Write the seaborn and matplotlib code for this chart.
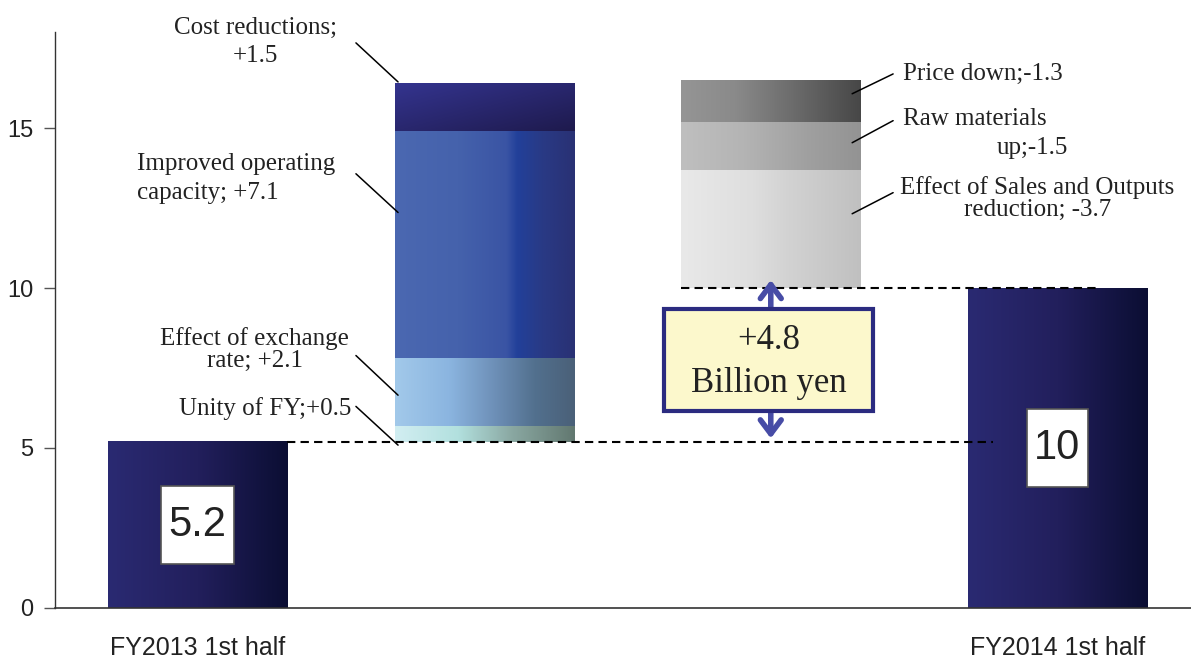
import numpy as np
import matplotlib
matplotlib.use("Agg")
import matplotlib.pyplot as plt
from matplotlib.colors import LinearSegmentedColormap, to_rgb
from matplotlib.patches import Rectangle
import seaborn as sns

# data
categories = ["FY2013 1st half", "increase", "decrease", "FY2014 1st half"]
tick_labels = ["FY2013 1st half", "", "", "FY2014 1st half"]
total_names = ["FY2013 1st half", "FY2014 1st half"]
totals = [5.2, 10]
inc_labels = ["Unity of FY;+0.5", "Effect of exchange\nrate; +2.1",
              "Improved operating\ncapacity; +7.1", "Cost reductions;\n+1.5"]
inc_values = [0.5, 2.1, 7.1, 1.5]
# decreases stacked upward from the FY2014 value
dec_labels = ["Effect of Sales and Outputs\nreduction; -3.7", "Raw materials", "Price down;-1.3"]
dec_values = [3.7, 1.5, 1.3]
gap = 4.8

sns.set_style("white")
SERIF = ["Liberation Serif", "DejaVu Serif"]
SANS = ["Liberation Sans", "DejaVu Sans"]

fig = plt.figure(figsize=(11.91, 6.6), dpi=100)
ax = fig.add_axes([0.0458, 0.0788, 0.9622, 0.8727])

W = 0.625
sns.barplot(x=total_names, y=totals, order=categories, width=W, color="#1c1c55",
            saturation=1, ax=ax, zorder=2)
total_patches = list(ax.patches)

inc_patches = []
b = totals[0]
for v in inc_values:
    inc_patches += list(ax.bar(1, v, bottom=b, width=W, color="#4a66b0", zorder=2))
    b += v
dec_patches = []
b = totals[1]
for v in dec_values:
    dec_patches += list(ax.bar(2, v, bottom=b, width=W, color="#bbbbbb", zorder=2))
    b += v


def grad(patch, stops):
    pos = [s[0] for s in stops]
    cols = [s[1] for s in stops]
    cmap = LinearSegmentedColormap.from_list("g", list(zip(pos, cols)))
    x0, y0 = patch.get_x(), patch.get_y()
    w, h = patch.get_width(), patch.get_height()
    ax.imshow(np.linspace(0, 1, 256).reshape(1, -1), cmap=cmap, aspect="auto",
              extent=[x0, x0 + w, y0, y0 + h], zorder=2.5, interpolation="bilinear")


def grad2d(patch, c_tl, c_br):
    a, z = np.array(to_rgb(c_tl)), np.array(to_rgb(c_br))
    u = np.linspace(0, 1, 128)[None, :]
    v = np.linspace(0, 1, 64)[:, None]
    t = (0.5 * u + 0.5 * v)[..., None]
    img = a * (1 - t) + z * t
    x0, y0 = patch.get_x(), patch.get_y()
    w, h = patch.get_width(), patch.get_height()
    ax.imshow(img, aspect="auto", extent=[x0, x0 + w, y0, y0 + h], zorder=2.5,
              interpolation="bilinear")


navy = [(0, "#2a2a72"), (0.5, "#221f5c"), (1, "#0b0e33")]
for p in total_patches:
    grad(p, navy)

grad(inc_patches[0], [(0, "#d2eef2"), (0.35, "#b2e0de"), (0.65, "#8aa8a2"), (1, "#627870")])
grad(inc_patches[1], [(0, "#a2c9ea"), (0.3, "#8bb5e0"), (0.55, "#6e90b8"), (0.78, "#52708e"), (1, "#4a6078")])
grad(inc_patches[2], [(0, "#4b68b1"), (0.35, "#4562ac"), (0.62, "#3a54a4"), (0.68, "#22409a"),
                      (0.82, "#293a85"), (1, "#293174")])
grad2d(inc_patches[3], "#34348f", "#1e1a4d")

grad(dec_patches[0], [(0, "#e9e9e9"), (0.4, "#dedede"), (0.6, "#d2d2d2"), (1, "#c0c0c0")])
grad(dec_patches[1], [(0, "#bfbfbf"), (0.35, "#b4b4b4"), (0.7, "#a0a0a0"), (1, "#939393")])
grad(dec_patches[2], [(0, "#959595"), (0.3, "#8a8a8a"), (0.6, "#6e6e6e"), (1, "#474747")])

# value boxes on the total bars
for i, v in zip([0, 3], totals):
    s = f"{v:g}"
    bw = 0.13 + 0.042 * len(s)
    ax.add_patch(Rectangle((i - bw / 2, v / 2 - 1.22), bw, 2.44, facecolor="white",
                           edgecolor="#555555", lw=1.2, zorder=4))
    ax.text(i, v / 2, s, ha="center", va="center", fontsize=30, family=SANS,
            color="#222222", zorder=5)

# dashed reference lines
dash = dict(color="black", lw=1.5, linestyle=(0, (4, 2.5)), zorder=3)
ax.plot([W / 2, 2.776], [totals[0]] * 2, **dash)
ax.plot([2 - W / 2, 3.142], [totals[1]] * 2, **dash)

# gap box with arrows
yc = (totals[0] + totals[1]) / 2 + 0.15
ax.add_patch(Rectangle((2 - 0.365 - 0.008, yc - 1.6), 0.73, 3.2, facecolor="#fcf8cc",
                       edgecolor="#2b2b80", lw=3, zorder=6))
ax.text(1.992, yc - 0.05, f"+{gap}\nBillion yen", ha="center", va="center", fontsize=25,
        family=SERIF, color="#222222", linespacing=1.4, zorder=7)
arw = dict(arrowstyle="->,head_length=1.0,head_width=0.75", lw=4, color="#474ca6",
           shrinkA=0, shrinkB=0)
ax.annotate("", xy=(2, totals[1] + 0.25), xytext=(2, yc + 1.6), arrowprops=arw, zorder=5)
ax.annotate("", xy=(2, totals[0] + 0.1), xytext=(2, yc - 1.6), arrowprops=arw, zorder=5)

# labels and leader lines
lab = dict(fontsize=18, family=SERIF, color="#222222")
ax.text(0.200, 17.69, inc_labels[3], ha="center", va="center", linespacing=1.4, **lab)
ax.text(-0.212, 13.42, inc_labels[2], ha="left", va="center", linespacing=1.4, **lab)
ax.text(0.199, 8.08, inc_labels[1], ha="center", va="center", linespacing=1.0, **lab)
ax.text(0.535, 6.24, inc_labels[0], ha="right", va="center", **lab)
ax.text(2.461, 16.69, dec_labels[2], ha="left", va="center", **lab)
ax.text(2.461, 15.29, dec_labels[1], ha="left", va="center", **lab)
ax.text(2.912, 14.38, "up;-1.5", ha="center", va="center", **lab)
ax.text(2.930, 12.81, dec_labels[0], ha="center", va="center", linespacing=1.0, **lab)

leaders = [((0.552, 17.66), (0.699, 16.44)), ((0.552, 13.57), (0.699, 12.36)),
           ((0.552, 7.89), (0.699, 6.65)), ((0.552, 6.30), (0.699, 5.09)),
           ((2.427, 16.69), (2.284, 16.07)), ((2.427, 15.23), (2.284, 14.54)),
           ((2.427, 12.98), (2.284, 12.32))]
for (x1, y1), (x2, y2) in leaders:
    ax.plot([x1, x2], [y1, y2], color="black", lw=1.1, zorder=4)

# axes styling
ax.set_xlim(-0.5, 3.5)
ax.set_ylim(0, 18)
ax.set_xlabel("")
ax.set_ylabel("")
ax.set_xticks(range(4))
ax.set_xticklabels(tick_labels, fontsize=18, family=SANS, color="#222222")
ax.tick_params(axis="x", which="major", length=0, pad=20)
ax.set_xticks([0.5, 1.5, 2.5], minor=True)
ax.tick_params(axis="x", which="minor", direction="in", length=9, width=1, color="#555555")
ax.set_yticks([0, 5, 10, 15])
ax.set_yticklabels(["0", "5", "10", "15"], fontsize=17, family=SANS, color="#222222")
ax.tick_params(axis="y", direction="out", length=8, width=1, color="#555555", pad=7, left=True)
for s in ["top", "right"]:
    ax.spines[s].set_visible(False)
ax.spines["left"].set_color("#333333")
ax.spines["bottom"].set_color("#333333")
ax.spines["left"].set_linewidth(1)
ax.spines["bottom"].set_linewidth(1.2)

fig.savefig("out.png", dpi=100)
